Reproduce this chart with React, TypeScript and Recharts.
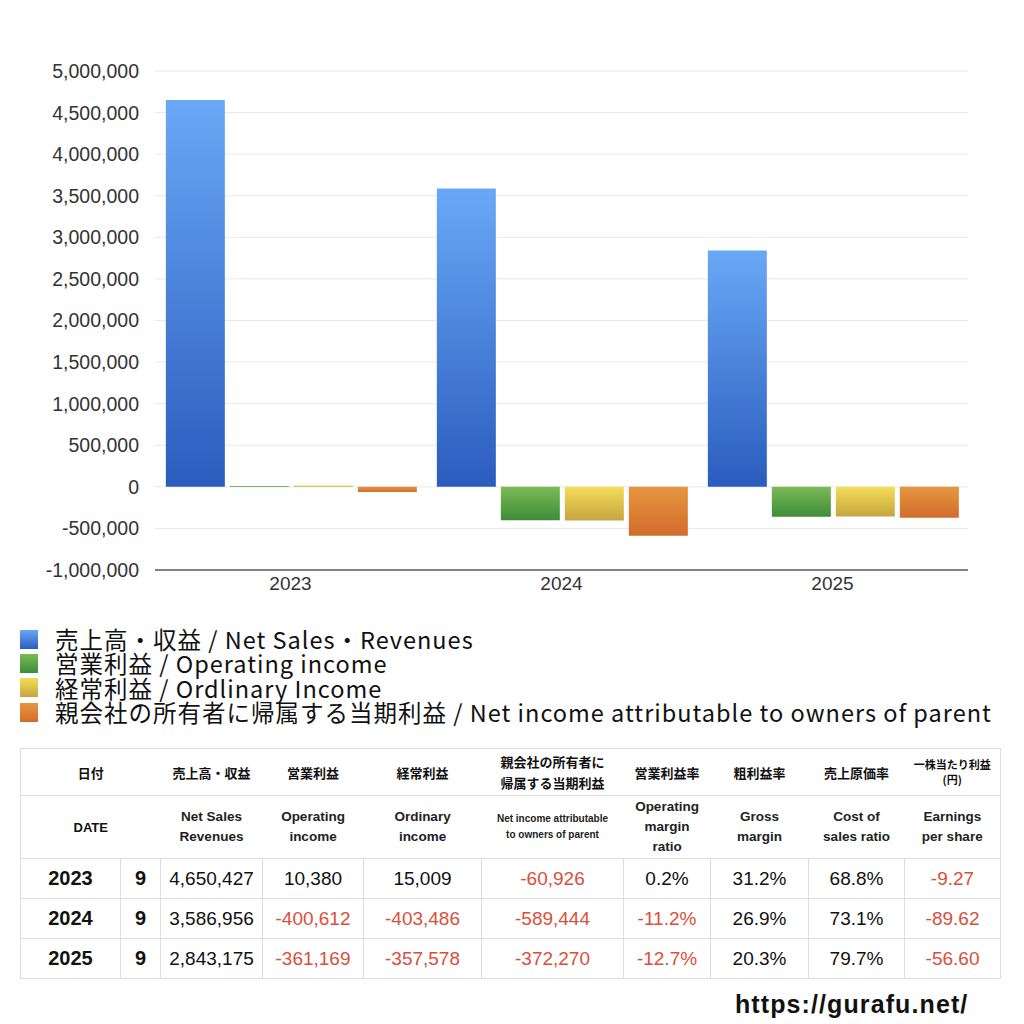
import React from "react";
import { Bar, BarChart, CartesianGrid, XAxis, YAxis } from "recharts";

const years = ["2023", "2024", "2025"];
const months = [9, 9, 9];
const netSales = [4650427, 3586956, 2843175];
const operatingIncome = [10380, -400612, -361169];
const ordinaryIncome = [15009, -403486, -357578];
const netIncome = [-60926, -589444, -372270];
const operatingMargin = ["0.2%", "-11.2%", "-12.7%"];
const grossMargin = ["31.2%", "26.9%", "20.3%"];
const costRatio = ["68.8%", "73.1%", "79.7%"];
const eps = ["-9.27", "-89.62", "-56.60"];
const yTicks = [-1000000, -500000, 0, 500000, 1000000, 1500000, 2000000, 2500000, 3000000, 3500000, 4000000, 4500000, 5000000];

const chartData = years.map((y, i) => ({
  year: y,
  sales: netSales[i],
  op: operatingIncome[i],
  ord: ordinaryIncome[i],
  net: netIncome[i],
}));

const series = [
  { key: "sales", label: "売上高・収益 / Net Sales・Revenues", top: "#6aa8f6", bottom: "#2a5cbe" },
  { key: "op", label: "営業利益 / Operating income", top: "#7bbb56", bottom: "#3e8c39" },
  { key: "ord", label: "経常利益 / Ordlinary Income", top: "#f4de58", bottom: "#c6a540" },
  { key: "net", label: "親会社の所有者に帰属する当期利益 / Net income attributable to owners of parent", top: "#e6963f", bottom: "#d26c2c" },
];

const latin = "'Liberation Sans', Arial, 'Noto Sans CJK JP', sans-serif";
const cjk = "'Noto Sans CJK JP', 'Liberation Sans', sans-serif";
const red = "#d9503a";
const border = "1px solid #dedede";

const fmt = (v: number) => v.toLocaleString("en-US");
const isNeg = (s: string | number) => String(s).startsWith("-");

const headTop = ["売上高・収益", "営業利益", "経常利益", "親会社の所有者に\n帰属する当期利益", "営業利益率", "粗利益率", "売上原価率", "一株当たり利益\n(円)"];
const headBottom = ["Net Sales\nRevenues", "Operating\nincome", "Ordinary\nincome", "Net income attributable\nto owners of parent", "Operating\nmargin\nratio", "Gross\nmargin", "Cost of\nsales ratio", "Earnings\nper share"];
const colWidths = [100, 40, 102, 101, 118, 142, 87, 98, 96, 96];

const App = () => {
  return (
    <div style={{ position: "absolute", left: 0, top: 0, width: 1024, height: 1024, background: "#fff", fontFamily: cjk }}>
      <BarChart
        width={1024}
        height={640}
        data={chartData}
        margin={{ top: 71, right: 56, left: 0, bottom: 40 }}
        barCategoryGap="4%"
        barGap={5}
      >
        <defs>
          {series.map((s) => (
            <linearGradient key={s.key} id={`g-${s.key}`} x1="0" y1="0" x2="0" y2="1">
              <stop offset="0%" stopColor={s.top} />
              <stop offset="100%" stopColor={s.bottom} />
            </linearGradient>
          ))}
        </defs>
        <CartesianGrid vertical={false} stroke="#e8e8e8" />
        <XAxis
          dataKey="year"
          height={30}
          tickLine={false}
          tickSize={0}
          tickMargin={7}
          axisLine={{ stroke: "#111" }}
          tick={{ fill: "#333", fontSize: 19, fontFamily: latin }}
        />
        <YAxis
          width={155}
          domain={[-1000000, 5000000]}
          ticks={yTicks}
          interval={0}
          tickFormatter={fmt}
          axisLine={false}
          tickLine={false}
          tickSize={0}
          tickMargin={16}
          tick={{ fill: "#333", fontSize: 19.5, fontFamily: latin }}
        />
        {series.map((s) => (
          <Bar key={s.key} dataKey={s.key} fill={`url(#g-${s.key})`} isAnimationActive={false} />
        ))}
      </BarChart>

      <div style={{ position: "absolute", left: 20, top: 627 }}>
        {series.map((s) => (
          <div key={s.key} style={{ display: "flex", alignItems: "center", height: 24.3 }}>
            <div style={{ width: 18, height: 19, background: `linear-gradient(${s.top}, ${s.bottom})`, marginRight: 17 }} />
            <span style={{ fontSize: 23.5, letterSpacing: 1, color: "#111", whiteSpace: "nowrap", lineHeight: "24px" }}>{s.label}</span>
          </div>
        ))}
      </div>

      <table
        style={{
          position: "absolute",
          left: 20,
          top: 748,
          width: 980,
          borderCollapse: "collapse",
          tableLayout: "fixed",
          border,
          color: "#111",
        }}
      >
        <colgroup>
          {colWidths.map((w, i) => (
            <col key={i} style={{ width: w }} />
          ))}
        </colgroup>
        <tbody>
          <tr style={{ height: 47 }}>
            <td colSpan={2} style={{ textAlign: "center", fontWeight: 700, fontSize: 13, borderBottom: border }}>日付</td>
            {headTop.map((h, i) => (
              <td
                key={i}
                style={{
                  textAlign: "center",
                  fontWeight: 700,
                  fontSize: i === 7 ? 11 : 13,
                  whiteSpace: "pre-line",
                  lineHeight: i === 7 ? "15px" : "21px",
                  borderBottom: border,
                }}
              >
                {h}
              </td>
            ))}
          </tr>
          <tr style={{ height: 62 }}>
            <td colSpan={2} style={{ textAlign: "center", fontWeight: 700, fontSize: 13, fontFamily: latin }}>DATE</td>
            {headBottom.map((h, i) => (
              <td
                key={i}
                style={{
                  textAlign: "center",
                  fontWeight: 700,
                  fontSize: i === 3 ? 10 : 13.5,
                  fontFamily: latin,
                  whiteSpace: "pre-line",
                  lineHeight: i === 3 ? "16px" : "20px",
                  color: "#222",
                }}
              >
                {h}
              </td>
            ))}
          </tr>
          {years.map((y, i) => {
            const cells = [
              fmt(netSales[i]),
              fmt(operatingIncome[i]),
              fmt(ordinaryIncome[i]),
              fmt(netIncome[i]),
              operatingMargin[i],
              grossMargin[i],
              costRatio[i],
              eps[i],
            ];
            return (
              <tr key={y} style={{ height: 40 }}>
                <td style={{ textAlign: "center", fontWeight: 700, fontSize: 20, fontFamily: latin, borderTop: border }}>{y}</td>
                <td style={{ textAlign: "center", fontWeight: 700, fontSize: 20, fontFamily: latin, border }}>{months[i]}</td>
                {cells.map((c, j) => (
                  <td
                    key={j}
                    style={{
                      textAlign: "center",
                      fontSize: 19,
                      fontFamily: latin,
                      color: isNeg(c) ? red : "#111",
                      border,
                      padding: 0,
                      whiteSpace: "nowrap",
                    }}
                  >
                    {c}
                  </td>
                ))}
              </tr>
            );
          })}
        </tbody>
      </table>

      <div
        style={{
          position: "absolute",
          left: 735,
          top: 990,
          fontSize: 25,
          letterSpacing: 1.1,
          fontWeight: 700,
          fontFamily: latin,
          color: "#111",
        }}
      >
        https://gurafu.net/
      </div>
    </div>
  );
};

export default App;
